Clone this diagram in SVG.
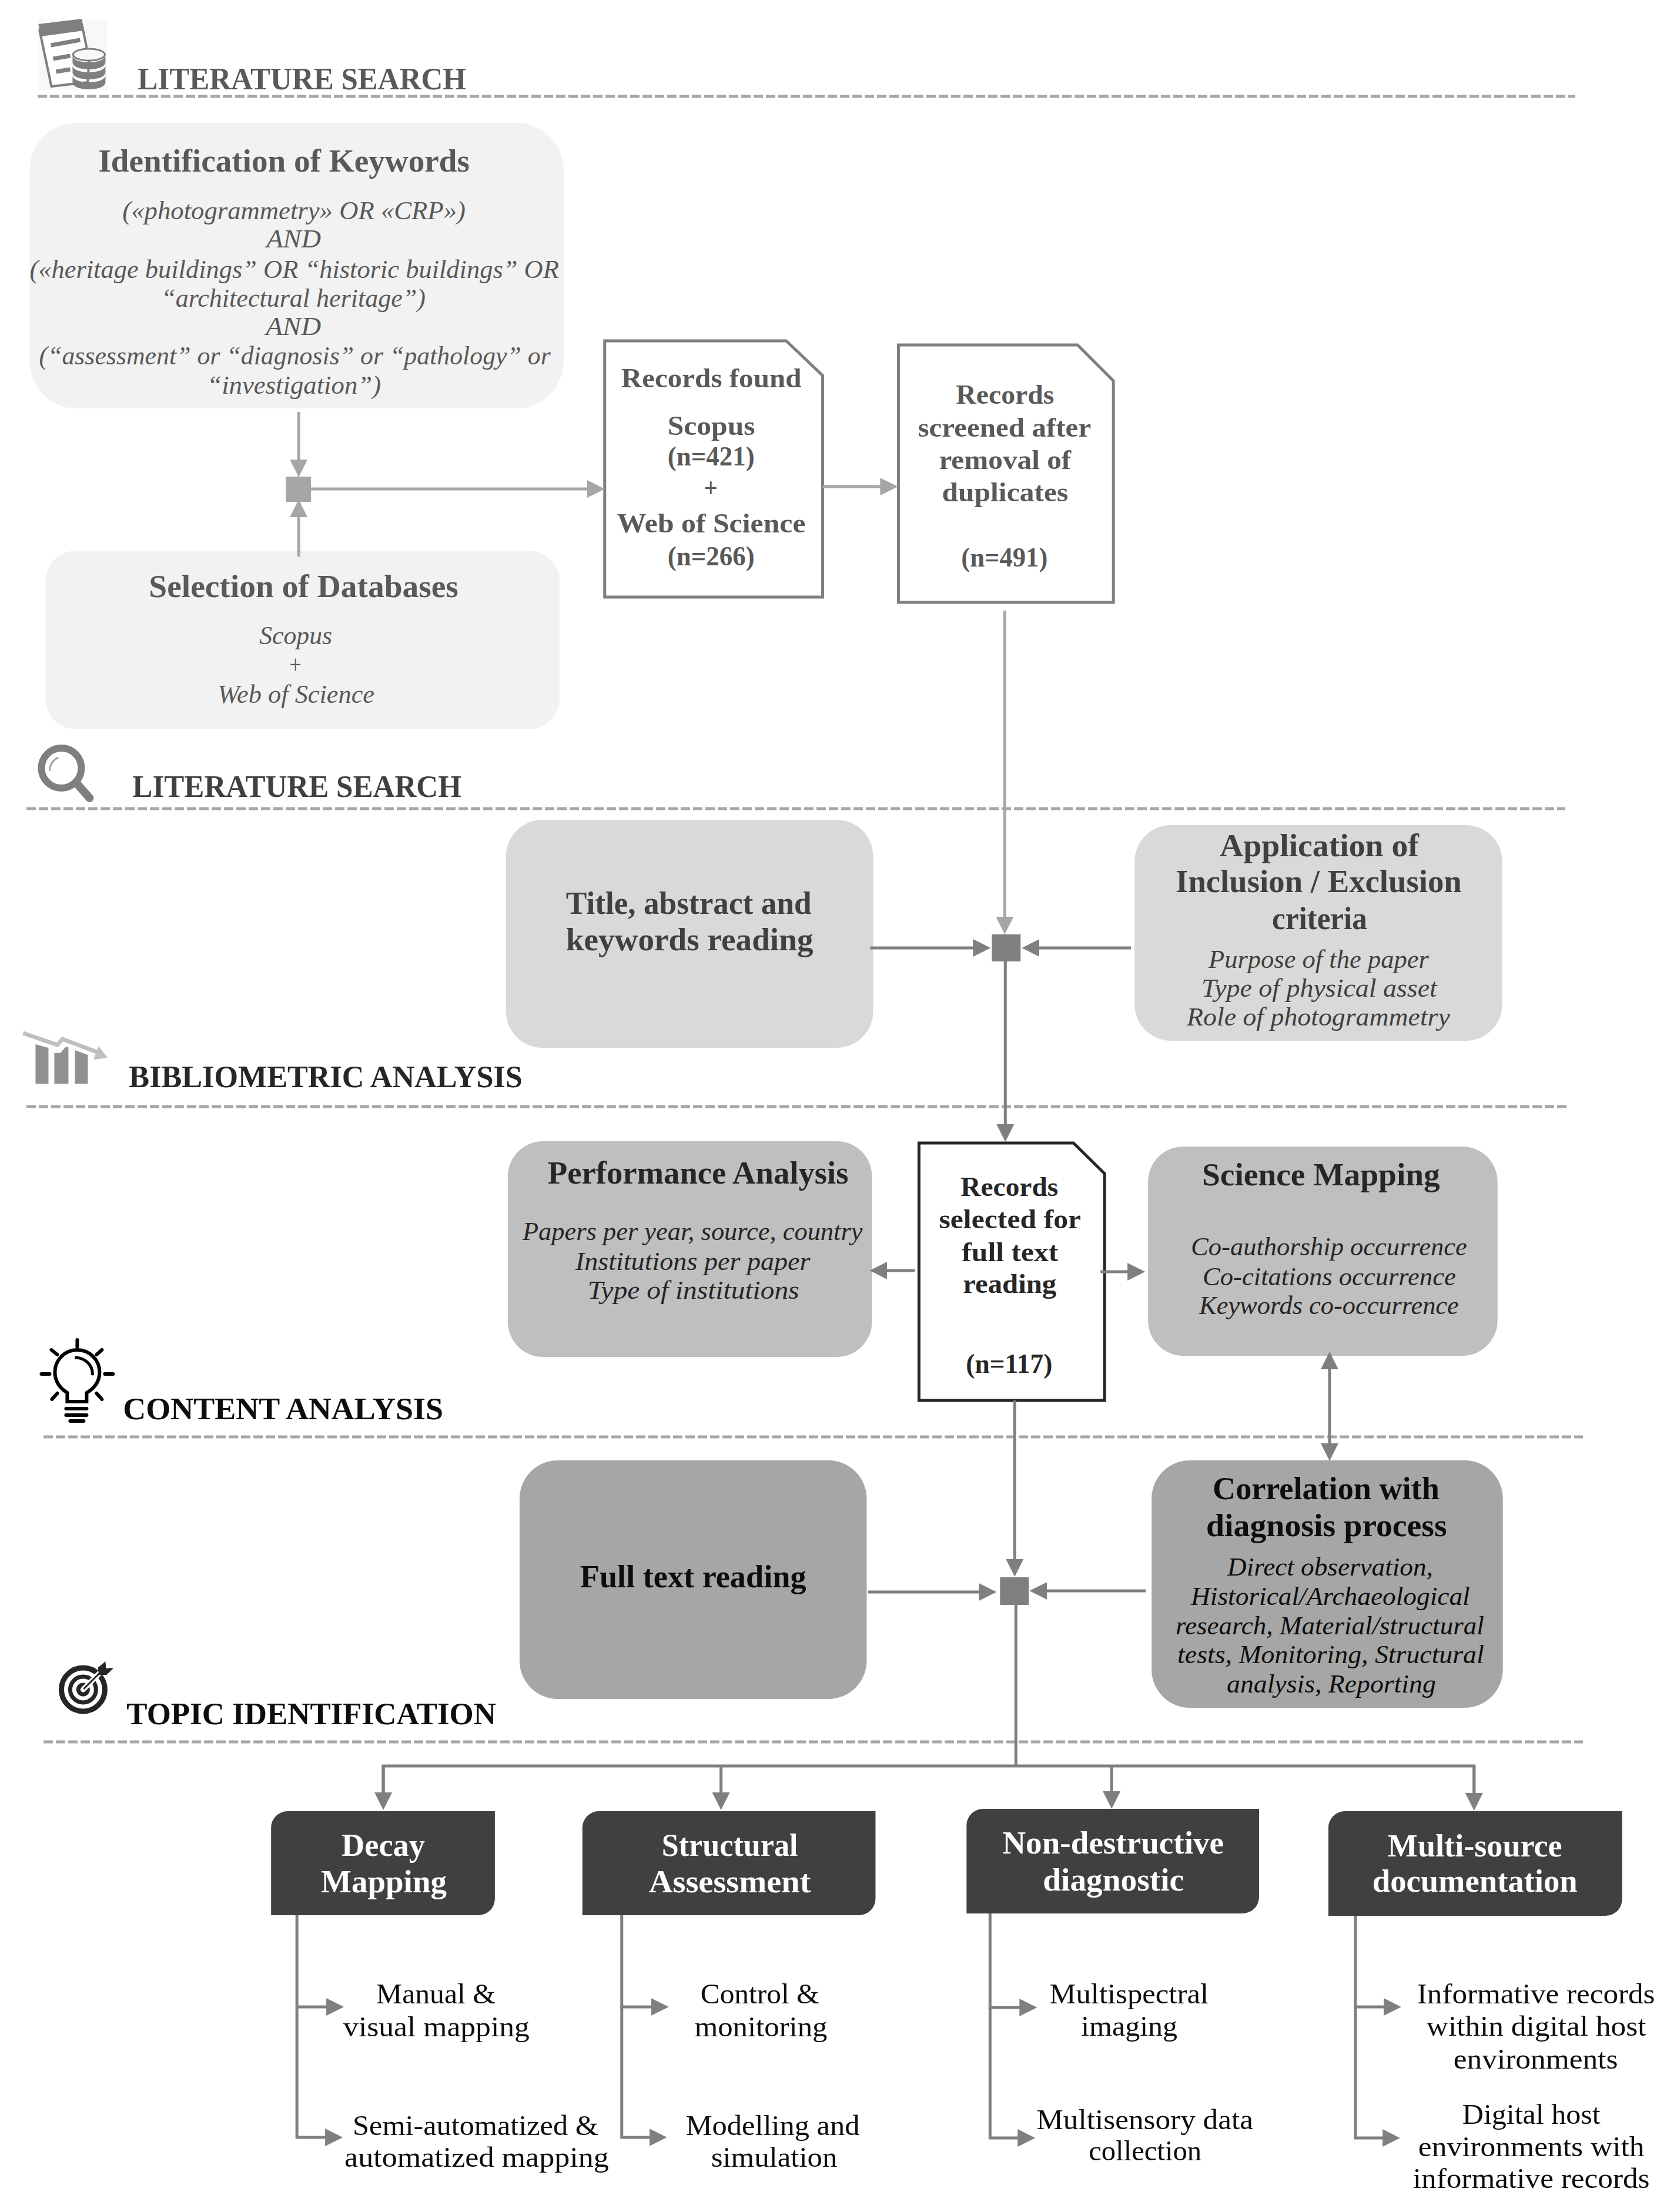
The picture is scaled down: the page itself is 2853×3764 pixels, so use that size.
<svg xmlns="http://www.w3.org/2000/svg" width="2853" height="3764" viewBox="0 0 2853 3764">
<style>
text{font-family:"Liberation Serif","Times New Roman",serif;}
.sec{font-size:52px;font-weight:bold;}
.h{font-size:54px;font-weight:bold;}
.d{font-size:47px;font-weight:bold;}
.i{font-size:44px;font-style:italic;}
.w{font-size:54px;font-weight:bold;fill:#fff;}
.l{font-size:48px;fill:#0d0d0d;}
.c5{fill:#595959;}.c4{fill:#404040;}.c2{fill:#262626;}.c0{fill:#0d0d0d;}
.dash{stroke:#a6a6a6;stroke-width:5;stroke-dasharray:16 5;fill:none;}
.cl{stroke:#a6a6a6;stroke-width:5;fill:none;}
.cd{stroke:#7f7f7f;stroke-width:5;fill:none;}
.ml{marker-end:url(#al);}
.md{marker-end:url(#ad);}
.doc{fill:#fff;stroke-width:5;}
</style>
<defs>
<marker id="al" markerUnits="userSpaceOnUse" markerWidth="32" markerHeight="32" viewBox="0 0 32 32" refX="1" refY="16" orient="auto-start-reverse"><path d="M0 1L30 16L0 31Z" fill="#a6a6a6"/></marker>
<marker id="ad" markerUnits="userSpaceOnUse" markerWidth="32" markerHeight="32" viewBox="0 0 32 32" refX="1" refY="16" orient="auto-start-reverse"><path d="M0 1L30 16L0 31Z" fill="#7f7f7f"/></marker>
</defs>
<rect width="2853" height="3764" fill="#fff"/>

<g id="separators">
<path class="dash" d="M64 164H2680"/>
<path class="dash" d="M45 1376H2663"/>
<path class="dash" d="M45 1883H2665"/>
<path class="dash" d="M74 2445H2693"/>
<path class="dash" d="M74 2964H2693"/>
</g>

<g id="diagram" transform="translate(-0.5 0) scale(0.9993 1)">
<g id="section-literature-search-1">
<g id="icon-database">
<rect x="66" y="33" width="117" height="120" fill="#f8f8f8"/>
<path d="M68 52L140 42L152 100L150 140L88 147Z" fill="#fff" stroke="#7f7f7f" stroke-width="4"/>
<path d="M66 41L140 32L143 52L70 62Z" fill="#7f7f7f"/>
<path d="M87 77L137 68M91 100L120 95M96 122L120 118" stroke="#7f7f7f" stroke-width="7" fill="none"/>
<path d="M124 128v12c0 16 56 16 56 0v-12c0 16-56 16-56 0Z" fill="#7f7f7f"/>
<path d="M124 111v12c0 16 56 16 56 0v-12c0 16-56 16-56 0Z" fill="#7f7f7f"/>
<path d="M124 94v12c0 16 56 16 56 0v-12c0 16-56 16-56 0Z" fill="#7f7f7f"/>
<ellipse cx="152" cy="93" rx="27" ry="10" fill="#f8f8f8" stroke="#7f7f7f" stroke-width="3"/>
</g>
<text class="sec c5" x="235" y="152" textLength="559" lengthAdjust="spacingAndGlyphs">LITERATURE SEARCH</text>
</g>

<g id="node-keywords">
<rect x="51" y="209" width="909" height="486" rx="80" fill="#f2f2f2"/>
<text class="h c5" x="168" y="292" textLength="632" lengthAdjust="spacingAndGlyphs">Identification of Keywords</text>
<text class="i c5" x="209" y="373" textLength="584" lengthAdjust="spacingAndGlyphs">(«photogrammetry» OR «CRP»)</text>
<text class="i c5" x="454" y="421" textLength="93" lengthAdjust="spacingAndGlyphs">AND</text>
<text class="i c5" x="51" y="473" textLength="901" lengthAdjust="spacingAndGlyphs">(«heritage buildings” OR “historic buildings” OR</text>
<text class="i c5" x="275" y="522" textLength="450" lengthAdjust="spacingAndGlyphs">“architectural heritage”)</text>
<text class="i c5" x="453" y="570" textLength="94" lengthAdjust="spacingAndGlyphs">AND</text>
<text class="i c5" x="67" y="620" textLength="871" lengthAdjust="spacingAndGlyphs">(“assessment” or “diagnosis” or “pathology” or</text>
<text class="i c5" x="353" y="670" textLength="296" lengthAdjust="spacingAndGlyphs">“investigation”)</text>
</g>

<g id="node-databases">
<rect x="78" y="937" width="875" height="304" rx="52" fill="#f2f2f2"/>
<text class="h c5" x="254" y="1016" textLength="527" lengthAdjust="spacingAndGlyphs">Selection of Databases</text>
<text class="i c5" x="442" y="1096" textLength="124" lengthAdjust="spacingAndGlyphs">Scopus</text>
<text class="i c5" x="491" y="1146" textLength="24" lengthAdjust="spacingAndGlyphs">+</text>
<text class="i c5" x="371" y="1196" textLength="267" lengthAdjust="spacingAndGlyphs">Web of Science</text>
</g>

<g id="node-junction-1"><rect x="487" y="811" width="43" height="43" fill="#a6a6a6"/></g>

<g id="node-records-found">
<path class="doc" stroke="#7f7f7f" d="M1030 580H1339L1401 639V1016H1030Z"/>
<text class="d c5" x="1058" y="659" textLength="307" lengthAdjust="spacingAndGlyphs">Records found</text>
<text class="d c5" x="1137" y="740" textLength="149" lengthAdjust="spacingAndGlyphs">Scopus</text>
<text class="d c5" x="1137" y="792" textLength="148" lengthAdjust="spacingAndGlyphs">(n=421)</text>
<text class="d c5" x="1199" y="846" textLength="23" lengthAdjust="spacingAndGlyphs">+</text>
<text class="d c5" x="1051" y="906" textLength="321" lengthAdjust="spacingAndGlyphs">Web of Science</text>
<text class="d c5" x="1137" y="962" textLength="148" lengthAdjust="spacingAndGlyphs">(n=266)</text>
</g>

<g id="node-records-screened">
<path class="doc" stroke="#7f7f7f" d="M1530 587H1835L1896 648V1025H1530Z"/>
<text class="d c5" x="1628" y="687" textLength="167" lengthAdjust="spacingAndGlyphs">Records</text>
<text class="d c5" x="1563" y="743" textLength="295" lengthAdjust="spacingAndGlyphs">screened after</text>
<text class="d c5" x="1599" y="798" textLength="225" lengthAdjust="spacingAndGlyphs">removal of</text>
<text class="d c5" x="1604" y="853" textLength="215" lengthAdjust="spacingAndGlyphs">duplicates</text>
<text class="d c5" x="1637" y="964" textLength="147" lengthAdjust="spacingAndGlyphs">(n=491)</text>
</g>

<g id="section-literature-search-2">
<g id="icon-magnifier" fill="none" stroke="#7f7f7f">
<circle cx="105" cy="1307" r="34" stroke-width="12"/>
<path d="M133 1335L153 1358" stroke-width="14" stroke-linecap="round"/>
<path d="M85 1312Q86 1295 100 1289" stroke-width="3" stroke="#a6a6a6"/>
</g>
<text class="sec c4" x="226" y="1356" textLength="560" lengthAdjust="spacingAndGlyphs">LITERATURE SEARCH</text>
</g>

<g id="node-title-abstract">
<rect x="862" y="1395" width="625" height="388" rx="62" fill="#d9d9d9"/>
<text class="h c4" x="964" y="1555" textLength="418" lengthAdjust="spacingAndGlyphs">Title, abstract and</text>
<text class="h c4" x="964" y="1617" textLength="421" lengthAdjust="spacingAndGlyphs">keywords reading</text>
</g>

<g id="node-criteria">
<rect x="1932" y="1404" width="626" height="367" rx="62" fill="#d9d9d9"/>
<text class="h c4" x="2077" y="1457" textLength="339" lengthAdjust="spacingAndGlyphs">Application of</text>
<text class="h c4" x="2002" y="1518" textLength="487" lengthAdjust="spacingAndGlyphs">Inclusion / Exclusion</text>
<text class="h c4" x="2166" y="1581" textLength="162" lengthAdjust="spacingAndGlyphs">criteria</text>
<text class="i c4" x="2058" y="1647" textLength="375" lengthAdjust="spacingAndGlyphs">Purpose of the paper</text>
<text class="i c4" x="2046" y="1696" textLength="401" lengthAdjust="spacingAndGlyphs">Type of physical asset</text>
<text class="i c4" x="2021" y="1745" textLength="448" lengthAdjust="spacingAndGlyphs">Role of photogrammetry</text>
</g>

<g id="node-junction-2"><rect x="1689" y="1590" width="49" height="46" fill="#7f7f7f"/></g>

<g id="section-bibliometric">
<g id="icon-bars">
<path d="M61 1777L83 1783V1844H61ZM93 1792H103L112 1782H117V1844H93ZM128 1787L150 1795V1844H128Z" fill="#919191"/>
<path d="M40 1758L98 1778L107 1768L165 1790" fill="none" stroke="#bfbfbf" stroke-width="7"/>
<path d="M168 1780L184 1800L160 1803Z" fill="#bfbfbf"/>
</g>
<text class="sec c2" x="220" y="1850" textLength="670" lengthAdjust="spacingAndGlyphs">BIBLIOMETRIC ANALYSIS</text>
</g>

<g id="node-performance">
<rect x="865" y="1942" width="620" height="367" rx="60" fill="#bfbfbf"/>
<text class="h c2" x="933" y="2014" textLength="512" lengthAdjust="spacingAndGlyphs">Performance Analysis</text>
<text class="i c2" x="890" y="2110" textLength="579" lengthAdjust="spacingAndGlyphs">Papers per year, source, country</text>
<text class="i c2" x="980" y="2161" textLength="400" lengthAdjust="spacingAndGlyphs">Institutions per paper</text>
<text class="i c2" x="1001" y="2210" textLength="360" lengthAdjust="spacingAndGlyphs">Type of institutions</text>
</g>

<g id="node-records-selected">
<path class="doc" stroke="#262626" d="M1565 1945H1828L1881 1997V2383H1565Z"/>
<text class="d c2" x="1636" y="2035" textLength="166" lengthAdjust="spacingAndGlyphs">Records</text>
<text class="d c2" x="1599" y="2090" textLength="242" lengthAdjust="spacingAndGlyphs">selected for</text>
<text class="d c2" x="1638" y="2146" textLength="164" lengthAdjust="spacingAndGlyphs">full text</text>
<text class="d c2" x="1640" y="2200" textLength="159" lengthAdjust="spacingAndGlyphs">reading</text>
<text class="d c2" x="1645" y="2336" textLength="147" lengthAdjust="spacingAndGlyphs">(n=117)</text>
</g>

<g id="node-science-mapping">
<rect x="1955" y="1951" width="595" height="356" rx="60" fill="#bfbfbf"/>
<text class="h c2" x="2047" y="2017" textLength="405" lengthAdjust="spacingAndGlyphs">Science Mapping</text>
<text class="i c2" x="2028" y="2136" textLength="470" lengthAdjust="spacingAndGlyphs">Co-authorship occurrence</text>
<text class="i c2" x="2048" y="2187" textLength="431" lengthAdjust="spacingAndGlyphs">Co-citations occurrence</text>
<text class="i c2" x="2042" y="2236" textLength="442" lengthAdjust="spacingAndGlyphs">Keywords co-occurrence</text>
</g>

<g id="section-content">
<g id="icon-bulb" fill="none" stroke="#000" stroke-width="6" stroke-linecap="round">
<path d="M115 2385V2370C104 2363 94 2352 94 2335A38 38 0 0 1 170 2335C170 2352 160 2363 148 2370V2385Z"/>
<path d="M113 2397H148M113 2408H148M120 2418H143"/>
<path d="M132 2280V2292M88 2297L98 2305M174 2297L165 2305M71 2338H85M179 2338H193M89 2381L98 2371M174 2381L165 2371"/>
<path d="M130 2310C145 2311 158 2322 158 2338" stroke-width="5"/>
</g>
<text class="sec c0" x="210" y="2415" textLength="545" lengthAdjust="spacingAndGlyphs">CONTENT ANALYSIS</text>
</g>

<g id="node-full-text">
<rect x="885" y="2485" width="591" height="406" rx="65" fill="#a6a6a6"/>
<text class="h c0" x="988" y="2701" textLength="385" lengthAdjust="spacingAndGlyphs">Full text reading</text>
</g>

<g id="node-correlation">
<rect x="1961" y="2485" width="598" height="421" rx="65" fill="#a6a6a6"/>
<text class="h c0" x="2065" y="2551" textLength="386" lengthAdjust="spacingAndGlyphs">Correlation with</text>
<text class="h c0" x="2054" y="2614" textLength="410" lengthAdjust="spacingAndGlyphs">diagnosis process</text>
<text class="i c0" x="2090" y="2681" textLength="350" lengthAdjust="spacingAndGlyphs">Direct observation,</text>
<text class="i c0" x="2028" y="2731" textLength="475" lengthAdjust="spacingAndGlyphs">Historical/Archaeological</text>
<text class="i c0" x="2002" y="2781" textLength="525" lengthAdjust="spacingAndGlyphs">research, Material/structural</text>
<text class="i c0" x="2005" y="2830" textLength="522" lengthAdjust="spacingAndGlyphs">tests, Monitoring, Structural</text>
<text class="i c0" x="2089" y="2880" textLength="356" lengthAdjust="spacingAndGlyphs">analysis, Reporting</text>
</g>

<g id="node-junction-3"><rect x="1703" y="2684" width="49" height="47" fill="#7f7f7f"/></g>

<g id="section-topic">
<g id="icon-target" fill="none" stroke="#262626">
<circle cx="142" cy="2875" r="37" stroke-width="9"/>
<circle cx="142" cy="2875" r="22" stroke-width="7"/>
<circle cx="142" cy="2875" r="8" stroke-width="7"/>
<path d="M143 2874L174 2843" stroke="#fff" stroke-width="9"/>
<path d="M143 2874L174 2843" stroke-width="3"/>
<path d="M167 2838L180 2827L181 2839L194 2838L182 2850L169 2850Z" fill="#262626" stroke="none"/>
</g>
<text class="sec c0" x="216" y="2934" textLength="629" lengthAdjust="spacingAndGlyphs">TOPIC IDENTIFICATION</text>
</g>

<g id="node-decay-mapping">
<path fill="#404040" d="M490 3082H843V3231A28 28 0 0 1 815 3259H462V3110A28 28 0 0 1 490 3082Z"/>
<text class="w" x="582" y="3158" textLength="142" lengthAdjust="spacingAndGlyphs">Decay</text>
<text class="w" x="547" y="3220" textLength="214" lengthAdjust="spacingAndGlyphs">Mapping</text>
</g>
<g id="node-structural-assessment">
<path fill="#404040" d="M1020 3082H1491V3231A28 28 0 0 1 1463 3259H992V3110A28 28 0 0 1 1020 3082Z"/>
<text class="w" x="1127" y="3158" textLength="232" lengthAdjust="spacingAndGlyphs">Structural</text>
<text class="w" x="1105" y="3220" textLength="276" lengthAdjust="spacingAndGlyphs">Assessment</text>
</g>
<g id="node-non-destructive">
<path fill="#404040" d="M1674 3078H2144V3228A28 28 0 0 1 2116 3256H1646V3106A28 28 0 0 1 1674 3078Z"/>
<text class="w" x="1707" y="3154" textLength="377" lengthAdjust="spacingAndGlyphs">Non-destructive</text>
<text class="w" x="1776" y="3217" textLength="240" lengthAdjust="spacingAndGlyphs">diagnostic</text>
</g>
<g id="node-multi-source">
<path fill="#404040" d="M2290 3082H2762V3232A28 28 0 0 1 2734 3260H2262V3110A28 28 0 0 1 2290 3082Z"/>
<text class="w" x="2363" y="3159" textLength="297" lengthAdjust="spacingAndGlyphs">Multi-source</text>
<text class="w" x="2337" y="3219" textLength="349" lengthAdjust="spacingAndGlyphs">documentation</text>
</g>

<g id="leaf-manual"><text class="l" x="641" y="3409" textLength="203" lengthAdjust="spacingAndGlyphs">Manual &amp;</text><text class="l" x="585" y="3465" textLength="317" lengthAdjust="spacingAndGlyphs">visual mapping</text></g>
<g id="leaf-semi"><text class="l" x="601" y="3633" textLength="418" lengthAdjust="spacingAndGlyphs">Semi-automatized &amp;</text><text class="l" x="587" y="3687" textLength="450" lengthAdjust="spacingAndGlyphs">automatized mapping</text></g>
<g id="leaf-control"><text class="l" x="1193" y="3409" textLength="202" lengthAdjust="spacingAndGlyphs">Control &amp;</text><text class="l" x="1183" y="3465" textLength="226" lengthAdjust="spacingAndGlyphs">monitoring</text></g>
<g id="leaf-modelling"><text class="l" x="1168" y="3633" textLength="296" lengthAdjust="spacingAndGlyphs">Modelling and</text><text class="l" x="1211" y="3687" textLength="215" lengthAdjust="spacingAndGlyphs">simulation</text></g>
<g id="leaf-multispectral"><text class="l" x="1787" y="3409" textLength="271" lengthAdjust="spacingAndGlyphs">Multispectral</text><text class="l" x="1841" y="3464" textLength="164" lengthAdjust="spacingAndGlyphs">imaging</text></g>
<g id="leaf-multisensory"><text class="l" x="1765" y="3623" textLength="369" lengthAdjust="spacingAndGlyphs">Multisensory data</text><text class="l" x="1854" y="3676" textLength="192" lengthAdjust="spacingAndGlyphs">collection</text></g>
<g id="leaf-informative"><text class="l" x="2413" y="3409" textLength="405" lengthAdjust="spacingAndGlyphs">Informative records</text><text class="l" x="2429" y="3464" textLength="374" lengthAdjust="spacingAndGlyphs">within digital host</text><text class="l" x="2475" y="3520" textLength="280" lengthAdjust="spacingAndGlyphs">environments</text></g>
<g id="leaf-digital"><text class="l" x="2490" y="3614" textLength="235" lengthAdjust="spacingAndGlyphs">Digital host</text><text class="l" x="2415" y="3669" textLength="385" lengthAdjust="spacingAndGlyphs">environments with</text><text class="l" x="2406" y="3723" textLength="403" lengthAdjust="spacingAndGlyphs">informative records</text></g>

<g id="connectors">
<path class="cl ml" d="M509 701V783"/>
<path class="cl ml" d="M509 947V879"/>
<path class="cl ml" d="M530 832H1001"/>
<path class="cl ml" d="M1401 828H1500"/>
<path class="cl ml" d="M1711 1039V1561"/>
<path class="cd md" d="M1482 1613H1658"/>
<path class="cd md" d="M1926 1613H1769"/>
<path class="cd md" d="M1712 1636V1914"/>
<path class="cd md" d="M1558 2162H1510"/>
<path class="cd md" d="M1874 2164H1921"/>
<path class="cd md" style="marker-start:url(#ad)" d="M2264 2329V2457"/>
<path class="cd md" d="M1728 2383V2654"/>
<path class="cd md" d="M1478 2709H1668"/>
<path class="cd md" d="M1951 2707H1782"/>
<path class="cd" d="M1730 2731V3003"/>
<path class="cd" d="M653 3052V3005H2510V3052"/>
<path class="cd md" d="M653 3005V3051"/>
<path class="cd md" d="M1228 3005V3051"/>
<path class="cd md" d="M1893 3005V3049"/>
<path class="cd md" d="M2510 3005V3052"/>
<path class="cd md" d="M506 3259V3415H557"/>
<path class="cd md" d="M506 3415V3637H555"/>
<path class="cd md" d="M1059 3259V3415H1110"/>
<path class="cd md" d="M1059 3415V3637H1107"/>
<path class="cd md" d="M1686 3256V3416H1737"/>
<path class="cd md" d="M1686 3416V3638H1734"/>
<path class="cd md" d="M2308 3260V3415H2357"/>
<path class="cd md" d="M2308 3415V3638H2355"/>
</g>
</g>
</svg>
